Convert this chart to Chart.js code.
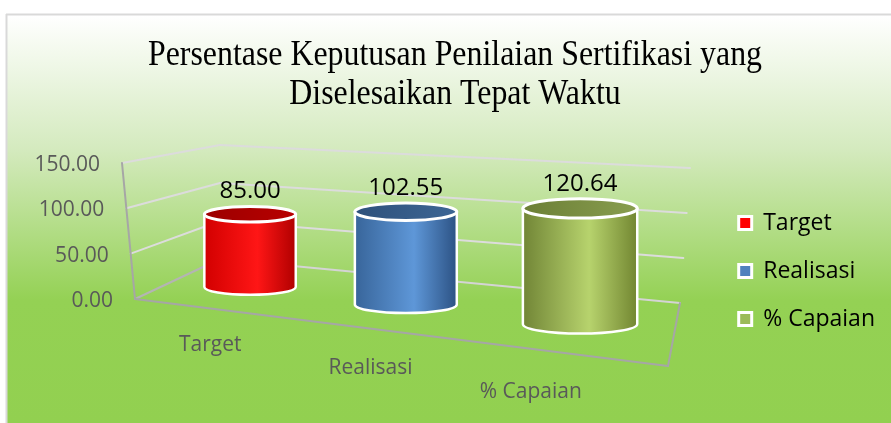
<!DOCTYPE html>
<html>
<head>
<meta charset="utf-8">
<script src="https://cdn.jsdelivr.net/npm/chart.js@4.4.1/dist/chart.umd.min.js"></script>
<style>
  html, body { margin: 0; padding: 0; background: #fff; }
  #wrap { position: relative; width: 891px; height: 423px; }
</style>
</head>
<body>
<div id="wrap"><canvas id="chart"></canvas></div>
<script>
const titleLines = ['Persentase Keputusan Penilaian Sertifikasi yang', 'Diselesaikan Tepat Waktu'];
const categories = ['Target', 'Realisasi', '% Capaian'];
const values = [85.00, 102.55, 120.64];
const tickValues = [0, 50, 100, 150];
const tickLabels = ['0.00', '50.00', '100.00', '150.00'];
const seriesColors = ['#ff0000', '#4f81bd', '#9bbb59'];

// cylinder shading: body left / highlight / right, top left / top right
const shades = [
    { body: ['#d20000', '#ff1616', '#b00000'], top: ['#9c0000', '#b80000'] },
    { body: ['#38659a', '#5e97d8', '#2c5284'], top: ['#2e517b', '#3d6695'] },
    { body: ['#718536', '#b7d36d', '#728631'], top: ['#6c7f36', '#889d4f'] }
];

// corners of the 3d box on screen (front / back, left / right, bottom / top)
const box = {
    fbl: [135, 299], ftl: [122, 163],
    fbr: [668, 366], ftr: [676, 205],
    bbl: [220, 259], btl: [220, 145],
    bbr: [680, 303], btr: [690, 168]
};
const depthRatio = 1.183;       // perspective squeeze along the category axis
const labelLine = [[130, 333], [611, 404]];

function lerp(a, b, t) {
    return [a[0] + (b[0] - a[0]) * t, a[1] + (b[1] - a[1]) * t];
}

function warp(u) {
    return u / (u + depthRatio * (1 - u));
}

// u: along categories (0..1), v: value fraction (0..1), z: depth (0 front, 1 back)
function project(u, v, z) {
    const w = warp(u);
    const bl = lerp(box.fbl, box.bbl, z), br = lerp(box.fbr, box.bbr, z);
    const tl = lerp(box.ftl, box.btl, z), tr = lerp(box.ftr, box.btr, z);
    const bottom = lerp(bl, br, w), top = lerp(tl, tr, w);
    return lerp(bottom, top, v);
}

function line(ctx, a, b, color, width) {
    ctx.beginPath();
    ctx.moveTo(a[0], a[1]);
    ctx.lineTo(b[0], b[1]);
    ctx.strokeStyle = color;
    ctx.lineWidth = width;
    ctx.stroke();
}

function drawCylinder(ctx, cx, yb, yt, w, ry, sh) {
    const rx = w / 2, l = cx - rx, r = cx + rx;
    const g = ctx.createLinearGradient(l, 0, r, 0);
    g.addColorStop(0, sh.body[0]);
    g.addColorStop(0.58, sh.body[1]);
    g.addColorStop(1, sh.body[2]);
    ctx.beginPath();
    ctx.moveTo(l, yt);
    ctx.lineTo(l, yb);
    ctx.ellipse(cx, yb, rx, ry, 0, Math.PI, 0, true);
    ctx.lineTo(r, yt);
    ctx.ellipse(cx, yt, rx, ry, 0, 0, Math.PI, false);
    ctx.closePath();
    ctx.fillStyle = g;
    ctx.fill();

    ctx.beginPath();
    ctx.moveTo(l, yt);
    ctx.lineTo(l, yb);
    ctx.ellipse(cx, yb, rx, ry, 0, Math.PI, 0, true);
    ctx.lineTo(r, yt);
    ctx.strokeStyle = '#ffffff';
    ctx.lineWidth = 2.5;
    ctx.stroke();

    const gt = ctx.createLinearGradient(l, 0, r, 0);
    gt.addColorStop(0, sh.top[0]);
    gt.addColorStop(1, sh.top[1]);
    ctx.beginPath();
    ctx.ellipse(cx, yt, rx, ry, 0, 0, Math.PI * 2);
    ctx.fillStyle = gt;
    ctx.fill();
    ctx.lineWidth = 3;
    ctx.stroke();
}

const scene3d = {
    id: 'scene3d',
    beforeDraw(chart) {
        const ctx = chart.ctx;
        const W = chart.width, H = chart.height;
        ctx.save();
        ctx.fillStyle = '#ffffff';
        ctx.fillRect(0, 0, W, H);
        const g = ctx.createLinearGradient(0, 15, 0, H);
        g.addColorStop(0, '#ffffff');
        g.addColorStop(0.33, '#d4eabe');
        g.addColorStop(0.7, '#94d154');
        g.addColorStop(1, '#92d050');
        ctx.fillStyle = g;
        ctx.fillRect(7, 15, W - 7, H - 15);
        line(ctx, [6.5, 14], [6.5, H], '#d9d9d9', 2);
        line(ctx, [6, 14.5], [W, 14.5], '#d9d9d9', 2);

        // title
        ctx.fillStyle = '#000000';
        ctx.textAlign = 'center';
        ctx.textBaseline = 'alphabetic';
        ctx.font = '35px "Liberation Serif", "Times New Roman", serif';
        const sx = 614 / ctx.measureText(titleLines[0]).width;
        titleLines.forEach((t, i) => {
            ctx.save();
            ctx.translate(455, 65 + i * 39);
            ctx.scale(sx, 1);
            ctx.fillText(t, 0, 0);
            ctx.restore();
        });
        ctx.restore();
    },
    afterDatasetsDraw(chart) {
        const ctx = chart.ctx;
        const area = chart.chartArea;
        const yScale = chart.scales.y;
        const xScale = chart.scales.x;
        const y0 = yScale.getPixelForValue(0);
        const yMax = yScale.getPixelForValue(yScale.max);
        const frac = val => (y0 - yScale.getPixelForValue(val)) / (y0 - yMax);
        const toU = px => (px - area.left) / area.width;

        ctx.save();
        ctx.lineCap = 'round';
        // grid lines on side and back walls
        tickValues.forEach(val => {
            const v = frac(val);
            if (val === 0) return;
            line(ctx, project(0, v, 0), project(0, v, 1), '#dcdcdc', 2);
            line(ctx, project(0, v, 1), project(1, v, 1), '#dcdcdc', 2);
        });
        // floor
        line(ctx, project(0, 0, 1), project(1, 0, 1), '#d4d4d4', 2);
        line(ctx, project(0, 0, 0), project(0, 0, 1), '#b4b4b4', 2);
        line(ctx, project(0, 0, 0), project(1, 0, 0), '#a6a6a6', 2);
        line(ctx, project(1, 0, 0), project(1, 0, 1), '#a6a6a6', 2);
        // value axis
        line(ctx, project(0, 0, 0), project(0, 1, 0), '#a6a6a6', 2);

        // tick labels
        ctx.fillStyle = '#595959';
        ctx.font = '21px "Open Sans"';
        ctx.textAlign = 'right';
        ctx.textBaseline = 'middle';
        tickValues.forEach((val, i) => {
            const p = project(0, frac(val), 0);
            ctx.fillText(tickLabels[i], p[0] - 22, p[1] + 2);
        });

        // category labels
        ctx.textAlign = 'center';
        categories.forEach((c, i) => {
            const p = lerp(labelLine[0], labelLine[1], toU(xScale.getPixelForValue(i)));
            ctx.fillText(c, p[0], p[1]);
        });

        // cylinders
        const meta = chart.getDatasetMeta(0);
        meta.data.forEach((bar, i) => {
            const u = toU(bar.x);
            const hw = bar.width / 2 / area.width;
            const v = (bar.base - bar.y) / (bar.base - yMax);
            const pl = project(u - hw, 0, 0.5), pr = project(u + hw, 0, 0.5);
            const w = pr[0] - pl[0];
            const cx = (pl[0] + pr[0]) / 2;
            const yb = project(u, 0, 0.5)[1];
            const yt = project(u, v, 0.5)[1];
            const ry = w * 0.085;
            drawCylinder(ctx, cx, yb, yt, w, ry, shades[i]);

            ctx.fillStyle = '#000000';
            ctx.font = '24px "Open Sans"';
            ctx.textAlign = 'center';
            ctx.textBaseline = 'middle';
            ctx.fillText(values[i].toFixed(2), cx, yt - ry - 15);
        });
        ctx.restore();
    }
};

new Chart(document.getElementById('chart'), {
    type: 'bar',
    data: {
        labels: categories,
        datasets: [{
            label: 'Persentase',
            data: values,
            backgroundColor: 'rgba(0,0,0,0)',
            borderWidth: 0,
            barPercentage: 0.62,
            categoryPercentage: 1
        }]
    },
    options: {
        responsive: true,
        maintainAspectRatio: false,
        animation: false,
        layout: { padding: { top: 119, right: 6, left: 0, bottom: 0 } },
        scales: {
            x: { display: false },
            y: { display: false, min: 0, max: 150, ticks: { stepSize: 50 } }
        },
        plugins: {
            tooltip: { enabled: false },
            legend: {
                position: 'right',
                align: 'center',
                labels: {
                    boxWidth: 13,
                    boxHeight: 13,
                    padding: 25,
                    color: '#000000',
                    font: { family: 'Open Sans', size: 23 },
                    generateLabels: () => categories.map((c, i) => ({
                        text: c,
                        fillStyle: seriesColors[i],
                        strokeStyle: '#ffffff',
                        lineWidth: 3,
                        hidden: false,
                        index: i
                    }))
                }
            }
        }
    },
    plugins: [scene3d]
});
</script>
</body>
</html>
